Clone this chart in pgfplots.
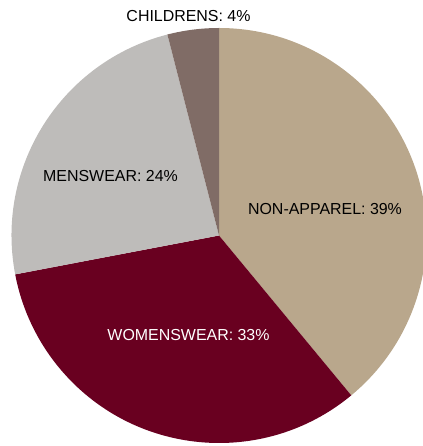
\documentclass[border=0pt]{standalone}
\usepackage{pgfplots}
\usepackage{pgfplotstable}
\pgfplotsset{compat=1.18}
\usepackage{fontspec}
\setmainfont{Liberation Sans}
\definecolor{cNon}{RGB}{185,167,140}
\definecolor{cWomen}{RGB}{105,0,32}
\definecolor{cMen}{RGB}{190,188,186}
\definecolor{cChild}{RGB}{128,108,102}
\pgfplotstableread{
label value
NON-APPAREL 39
WOMENSWEAR 33
MENSWEAR 24
CHILDRENS 4
}\piedata
\begin{document}
\begin{tikzpicture}
% cumulative angles (clockwise from 90 degrees)
\pgfplotstablegetelem{0}{value}\of\piedata \let\vA\pgfplotsretval
\pgfplotstablegetelem{1}{value}\of\piedata \let\vB\pgfplotsretval
\pgfplotstablegetelem{2}{value}\of\piedata \let\vC\pgfplotsretval
\pgfplotstablegetelem{3}{value}\of\piedata \let\vD\pgfplotsretval
\pgfmathsetmacro\aA{90}
\pgfmathsetmacro\aB{\aA-3.6*\vA}
\pgfmathsetmacro\aC{\aB-3.6*\vB}
\pgfmathsetmacro\aD{\aC-3.6*\vC}
\pgfmathsetmacro\aE{\aD-3.6*\vD}
\def\cx{219}\def\cy{210.5}\def\R{207.5}
\begin{axis}[
  width=423bp, height=446bp, scale only axis,
  xmin=0, xmax=423, ymin=0, ymax=446,
  hide axis, clip=true,
]
\addplot[draw=none] coordinates {(0,0) (423,446)};
\fill[cNon] (axis cs:\cx,\cy) -- (axis cs:{\cx+\R*cos(\aA)},{\cy+\R*sin(\aA)}) arc[start angle=\aA, end angle=\aB, radius=\R bp] -- cycle;
\fill[cWomen] (axis cs:\cx,\cy) -- (axis cs:{\cx+\R*cos(\aB)},{\cy+\R*sin(\aB)}) arc[start angle=\aB, end angle=\aC, radius=\R bp] -- cycle;
\fill[cMen] (axis cs:\cx,\cy) -- (axis cs:{\cx+\R*cos(\aC)},{\cy+\R*sin(\aC)}) arc[start angle=\aC, end angle=\aD, radius=\R bp] -- cycle;
\fill[cChild] (axis cs:\cx,\cy) -- (axis cs:{\cx+\R*cos(\aD)},{\cy+\R*sin(\aD)}) arc[start angle=\aD, end angle=\aE, radius=\R bp] -- cycle;
\node[anchor=base, font=\fontsize{16}{19}\selectfont, text=black] at (axis cs:188.5,424) {CHILDRENS: 4\%};
\node[anchor=base, font=\fontsize{16}{19}\selectfont, text=black] at (axis cs:110.5,264) {MENSWEAR: 24\%};
\node[anchor=base, font=\fontsize{16}{19}\selectfont, text=black] at (axis cs:325,231) {NON-APPAREL: 39\%};
\node[anchor=base, font=\fontsize{16}{19}\selectfont, text=white] at (axis cs:188.5,105) {WOMENSWEAR: 33\%};
\end{axis}
\end{tikzpicture}
\end{document}
